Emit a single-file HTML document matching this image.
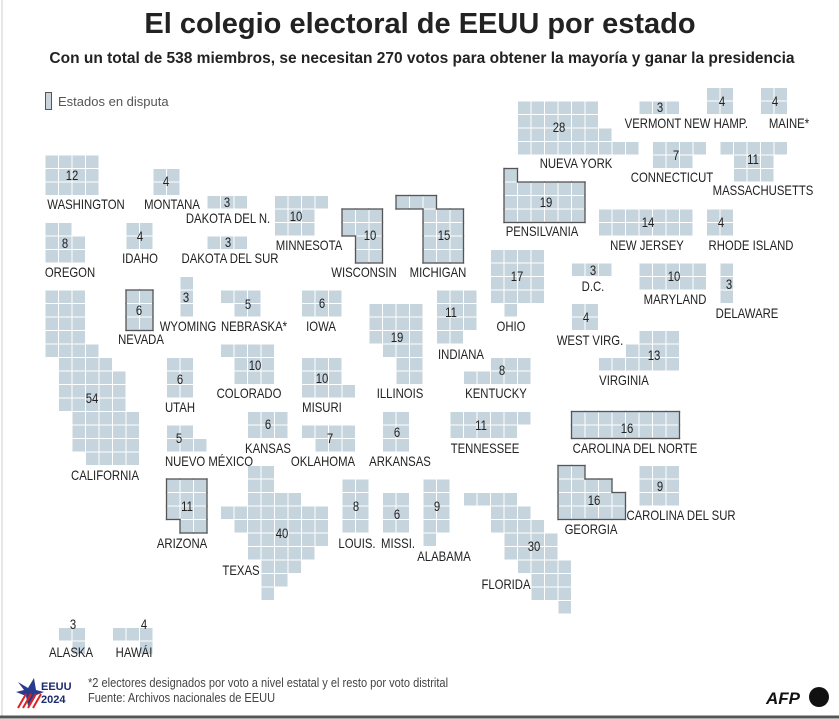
<!DOCTYPE html>
<html><head><meta charset="utf-8"><style>
html,body{margin:0;padding:0;background:#fff}
body{width:839px;height:719px;overflow:hidden;position:relative;font-family:"Liberation Sans",sans-serif}
</style></head><body>
<svg id="s" width="839" height="719" xmlns="http://www.w3.org/2000/svg" style="position:absolute;left:0;top:0">
<line x1="2" y1="0" x2="2" y2="716" stroke="#ccc" stroke-width="1"/>
<line x1="0" y1="717" x2="839" y2="717" stroke="#555" stroke-width="3"/>
<text x="420" y="33" text-anchor="middle" font-size="29" font-weight="bold" fill="#222">El colegio electoral de EEUU por estado</text>
<text x="422" y="63" text-anchor="middle" font-size="15.5" font-weight="bold" fill="#222">Con un total de 538 miembros, se necesitan 270 votos para obtener la mayoría y ganar la presidencia</text>
<rect x="45.5" y="92.5" width="6" height="17" fill="#c8d5de" stroke="#555"/>
<text x="58" y="106" font-size="13" fill="#555">Estados en disputa</text>
<g id="cells"></g><g id="outl"></g><g id="txt" fill="#222" text-anchor="middle"></g>
<g transform="translate(14,678)">
<polygon points="4,4 14,10 20,0 22,12 30,14 20,18 14,28 12,18 2,14 10,12" fill="#2a3a8c"/>
<line x1="4" y1="30" x2="12" y2="16" stroke="#d22" stroke-width="2"/>
<line x1="9" y1="30" x2="17" y2="16" stroke="#d22" stroke-width="2"/>
<line x1="14" y1="30" x2="22" y2="16" stroke="#d22" stroke-width="2"/>
<line x1="19" y1="30" x2="27" y2="16" stroke="#d22" stroke-width="2"/>
<text x="27" y="12" font-size="11" font-weight="bold" fill="#1a2a6c">EEUU</text>
<text x="27" y="25" font-size="11" font-weight="bold" fill="#1a2a6c">2024</text>
</g>
<text transform="translate(88,687) scale(0.85,1)" font-size="13" fill="#444">*2 electores designados por voto a nivel estatal y el resto por voto distrital</text>
<text transform="translate(88,702) scale(0.85,1)" font-size="13" fill="#444">Fuente: Archivos nacionales de EEUU</text>
<text x="766" y="704" font-size="17" font-weight="bold" font-style="italic" fill="#111">AFP</text>
<circle cx="819" cy="697" r="10" fill="#111"/>
</svg>
<script>
var S=13.5,X0=45,Y0=155;
function R(r,c1,c2){var a=[];for(var c=c1;c<=c2;c++)a.push([c,r]);return a;}
function B(r1,r2,c1,c2){var a=[];for(var r=r1;r<=r2;r++)a=a.concat(R(r,c1,c2));return a;}
var st=[
[B(0,2,0,3),0],[B(1,2,8,9),0],[R(3,12,14),0],[R(3,17,20).concat(B(4,5,17,19)),0],
[R(5,0,1).concat(B(6,7,0,2)),0],[B(5,6,6,7),0],[R(6,12,14),0],
[B(10,12,6,7),1],[B(9,11,10,10),0],[R(10,13,15).concat(R(11,14,15)),0],[B(10,11,19,21),0],
[B(10,13,0,2).concat(R(14,0,3),R(15,1,4),B(16,18,1,5),B(19,21,2,6),R(22,3,6)),0],
[B(4,5,22,24).concat(B(6,7,23,24)),1],[R(3,26,28).concat(B(4,7,28,30)),1],
[R(1,34,34).concat(B(2,4,34,39)),1],
[B(-4,-3,35,40).concat(R(-2,35,41),R(-1,35,43)),0],[R(-4,44,46),0],[B(-5,-4,49,50),0],[B(-5,-4,53,54),0],
[R(-1,45,48).concat(R(0,45,47)),0],[R(-1,50,54).concat(B(0,1,51,53)),0],
[B(4,5,41,47),0],[B(4,5,49,50),0],
[B(7,10,33,36).concat(R(11,34,34)),0],[B(10,12,29,31).concat(R(13,29,30)),0],
[B(11,13,24,27).concat(R(14,25,27),B(15,16,26,27)),0],
[R(15,33,35).concat(R(16,31,35)),0],[R(8,39,41),0],[B(8,9,44,48),0],[B(8,10,50,50),0],
[B(11,12,39,40),0],[R(13,44,46).concat(R(14,43,46),R(15,41,46)),0],
[B(19,19,30,35).concat(R(20,30,34)),0],[B(19,20,39,46),1],
[B(15,17,9,10),0],[R(14,13,16).concat(B(15,16,14,16)),0],[B(15,16,19,21).concat(R(17,19,22)),0],
[R(20,9,10).concat(R(21,9,11)),0],[B(19,20,15,17),0],[R(20,19,22).concat(R(21,20,22)),0],
[B(19,21,25,26),0],[B(24,26,9,11).concat(R(27,10,11)),1],
[B(23,24,15,16).concat(R(25,15,18),R(26,13,20),R(27,14,20),R(28,15,20),R(29,15,19),R(30,16,18),R(31,16,17),R(32,16,16)),0],
[B(24,27,22,23),0],[B(25,27,25,26),0],[B(24,27,28,29).concat(R(28,28,28)),0],
[R(25,31,34).concat(R(26,33,35),R(27,33,36),B(28,29,34,37),R(30,35,38),B(31,32,36,38),R(33,38,38)),0],
[R(23,38,39).concat(R(24,38,41),B(25,26,38,42)),1],[B(23,25,44,46),0],
[R(35,1,2).concat(R(36,2,2)),0],[R(35,5,7).concat(R(36,7,7)),0]
];
var ns="http://www.w3.org/2000/svg",cg=document.getElementById("cells"),og=document.getElementById("outl"),tg=document.getElementById("txt");
function el(p,t,a){var e=document.createElementNS(ns,t);for(var k in a)e.setAttribute(k,a[k]);p.appendChild(e);return e;}
st.forEach(function(s){var set={};s[0].forEach(function(q){set[q[0]+","+q[1]]=1;
el(cg,"rect",{x:X0+q[0]*S,y:Y0+q[1]*S,width:S,height:S,fill:"#c6d4de",stroke:"#fff","stroke-width":1});});
if(s[1]){s[0].forEach(function(q){var c=q[0],r=q[1],x=X0+c*S,y=Y0+r*S;
function L(a,b,c2,d){el(og,"line",{x1:a,y1:b,x2:c2,y2:d,stroke:"#555","stroke-width":1.3,"stroke-linecap":"square"});}
if(!set[c+","+(r-1)])L(x,y,x+S,y);if(!set[c+","+(r+1)])L(x,y+S,x+S,y+S);
if(!set[(c-1)+","+r])L(x,y,x,y+S);if(!set[(c+1)+","+r])L(x+S,y,x+S,y+S);});}});
var T=[["12",72,175],["4",166,181],["3",227,202],["10",296,216],["8",65,243],["4",140,236],["3",228,242],["10",370,235],["15",444,235],["28",559,127],["3",660,107],["4",722,101],["4",775,101],["7",676,155],["11",753,159],["19",546,202],["14",648,222],["4",721,222],["17",517,276],["6",139,310],["3",186,297],["5",248,304],["6",322,303],["11",451,312],["19",397,337],["3",593,270],["10",674,276],["3",729,284],["4",586,317],["13",654,355],["8",502,370],["6",180,379],["10",255,365],["10",322,378],["54",92,398],["6",268,424],["5",179,438],["7",330,438],["6",397,432],["11",481,425],["16",627,428],["11",187,506],["40",282,533],["8",356,506],["6",397,514],["9",437,506],["30",534,546],["16",594,500],["9",660,486],["3",73,624],["4",144,624],
["WASHINGTON",86,204],["MONTANA",172,204],["DAKOTA DEL N.",228,218],["MINNESOTA",309,245],["OREGON",70,272],["IDAHO",140,258],["DAKOTA DEL SUR",230,258],["WISCONSIN",364,272],["MICHIGAN",438,272],["NUEVA YORK",576,163],["VERMONT",653,123],["NEW HAMP.",716,123],["MAINE*",789,123],["CONNECTICUT",672,177],["MASSACHUSETTS",763,190],["PENSILVANIA",542,231],["NEW JERSEY",647,245],["RHODE ISLAND",751,245],["NEVADA",141,339],["WYOMING",188,326],["NEBRASKA*",254,326],["IOWA",321,326],["OHIO",511,326],["D.C.",593,286],["MARYLAND",675,299],["DELAWARE",747,313],["INDIANA",461,354],["WEST VIRG.",590,340],["VIRGINIA",624,380],["ILLINOIS",400,393],["KENTUCKY",496,393],["UTAH",180,407],["COLORADO",249,393],["MISURI",322,407],["CALIFORNIA",105,475],["KANSAS",268,448],["NUEVO MÉXICO",209,461],["OKLAHOMA",323,461],["ARKANSAS",400,461],["TENNESSEE",485,448],["CAROLINA DEL NORTE",635,448],["GEORGIA",591,529],["CAROLINA DEL SUR",681,515],["ARIZONA",182,543],["LOUIS.",357,543],["MISSI.",398,543],["ALABAMA",444,556],["FLORIDA",506,584],["TEXAS",241,570],["ALASKA",71,652],["HAWÁI",134,652]];
T.forEach(function(t){var lab=/[A-Z]/.test(t[0]);
var e=el(tg,"text",{transform:"translate("+t[1]+","+(t[2]+5)+") scale(0.84,1)","font-size":lab?"13.5":"13.5"});
e.textContent=t[0];});
</script>
</body></html>
